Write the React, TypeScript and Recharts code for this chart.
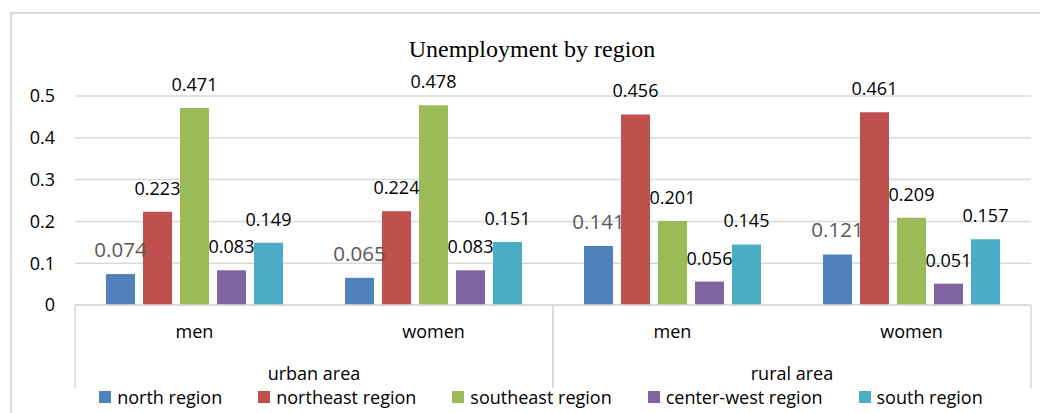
import { Bar, BarChart, CartesianGrid, LabelList, Legend, XAxis, YAxis } from "recharts";

// categories, two-level x axis
const genders = ["men", "women", "men", "women"];
const areas = ["urban area", "urban area", "rural area", "rural area"];
const areaNames = ["urban area", "rural area"];

// unemployment share per region
const north = [0.074, 0.065, 0.141, 0.121];
const northeast = [0.223, 0.224, 0.456, 0.461];
const southeast = [0.471, 0.478, 0.201, 0.209];
const centerWest = [0.083, 0.083, 0.056, 0.051];
const south = [0.149, 0.151, 0.145, 0.157];

const yTicks = [0, 0.1, 0.2, 0.3, 0.4, 0.5];

const SERIES = [
  { key: "north", name: "north region", color: "#4f81bd", values: north },
  { key: "northeast", name: "northeast region", color: "#c0504d", values: northeast },
  { key: "southeast", name: "southeast region", color: "#9bbb59", values: southeast },
  { key: "centerWest", name: "center-west region", color: "#8064a2", values: centerWest },
  { key: "south", name: "south region", color: "#4bacc6", values: south },
];

const data = genders.map((g, i) => {
  const row: Record<string, string | number> = { gender: g, area: areas[i] };
  SERIES.forEach((s) => (row[s.key] = s.values[i]));
  return row;
});

const FONT = "'Open Sans', sans-serif";

function GenderTick(props: any) {
  const { x, y, payload } = props;
  return (
    <text x={x} y={y + 33} textAnchor="middle" fontSize={18} fill="#000">
      {payload.value}
    </text>
  );
}

// area labels + the divider lines between the area groups
function AreaTick(props: any) {
  const { x, y, payload, width } = props;
  const half = payload.offset ?? width / (2 * areaNames.length);
  return (
    <g>
      <line x1={x - half} x2={x - half} y1={y - 40} y2={y + 43} stroke="#d9d9d9" strokeWidth={1.5} />
      <line x1={x + half} x2={x + half} y1={y - 40} y2={y + 43} stroke="#d9d9d9" strokeWidth={1.5} />
      <text x={x} y={y + 35} textAnchor="middle" fontSize={18} fill="#000">
        {payload.value}
      </text>
    </g>
  );
}

function LegendRow() {
  return (
    <div
      style={{
        display: "flex",
        justifyContent: "center",
        gap: 36,
        fontSize: 18,
        lineHeight: "20px",
        color: "#000",
      }}
    >
      {SERIES.map((s) => (
        <div key={s.key} style={{ display: "flex", alignItems: "center", gap: 6 }}>
          <span style={{ width: 12, height: 12, background: s.color, display: "inline-block" }} />
          <span>{s.name}</span>
        </div>
      ))}
    </div>
  );
}

export default function App() {
  return (
    <div
      style={{
        position: "absolute",
        left: 0,
        top: 0,
        width: 1040,
        height: 413,
        overflow: "hidden",
        background: "#fff",
        fontFamily: FONT,
      }}
    >
      <div
        style={{
          position: "absolute",
          left: 10,
          top: 12,
          width: 1100,
          height: 500,
          border: "2px solid #dadada",
        }}
      />
      <div
        style={{
          position: "absolute",
          left: 0,
          top: 36,
          width: 1064,
          textAlign: "center",
          fontFamily: "'Liberation Serif', 'Times New Roman', serif",
          fontSize: 24,
          color: "#000",
        }}
      >
        Unemployment by region
      </div>
      <div style={{ position: "absolute", left: 0, top: 0 }}>
        <BarChart
          width={1040}
          height={413}
          data={data}
          margin={{ top: 96, right: 9, bottom: 25, left: 0 }}
          barCategoryGap={31}
          barGap={8}
        >
          <CartesianGrid vertical={false} stroke="#d9d9d9" strokeWidth={1.5} />
          <XAxis
            dataKey="gender"
            xAxisId={0}
            height={40}
            tickLine={false}
            tickSize={0}
            tickMargin={0}
            axisLine={{ stroke: "#d9d9d9", strokeWidth: 1.5 }}
            tick={<GenderTick />}
            interval={0}
          />
          <XAxis
            dataKey="area"
            xAxisId="area"
            height={43}
            allowDuplicatedCategory={false}
            tickLine={false}
            tickSize={0}
            tickMargin={0}
            axisLine={false}
            tick={<AreaTick />}
            interval={0}
          />
          <YAxis
            width={75}
            domain={[0, 0.5]}
            ticks={yTicks}
            axisLine={false}
            tickLine={false}
            tickSize={0}
            tickMargin={20}
            tick={{ fontSize: 18, fill: "#000" }}
          />
          <Legend
            layout="horizontal"
            verticalAlign="middle"
            align="center"
            width={1082}
            wrapperStyle={{ left: 0, top: 387 }}
            content={<LegendRow />}
          />
          {SERIES.map((s, i) => (
            <Bar key={s.key} dataKey={s.key} name={s.name} fill={s.color} isAnimationActive={false}>
              <LabelList
                dataKey={s.key}
                position="top"
                offset={17}
                fill={i === 0 ? "#595959" : "#000"}
                fontSize={i === 0 ? 20.5 : 18}
              />
            </Bar>
          ))}
        </BarChart>
      </div>
    </div>
  );
}
